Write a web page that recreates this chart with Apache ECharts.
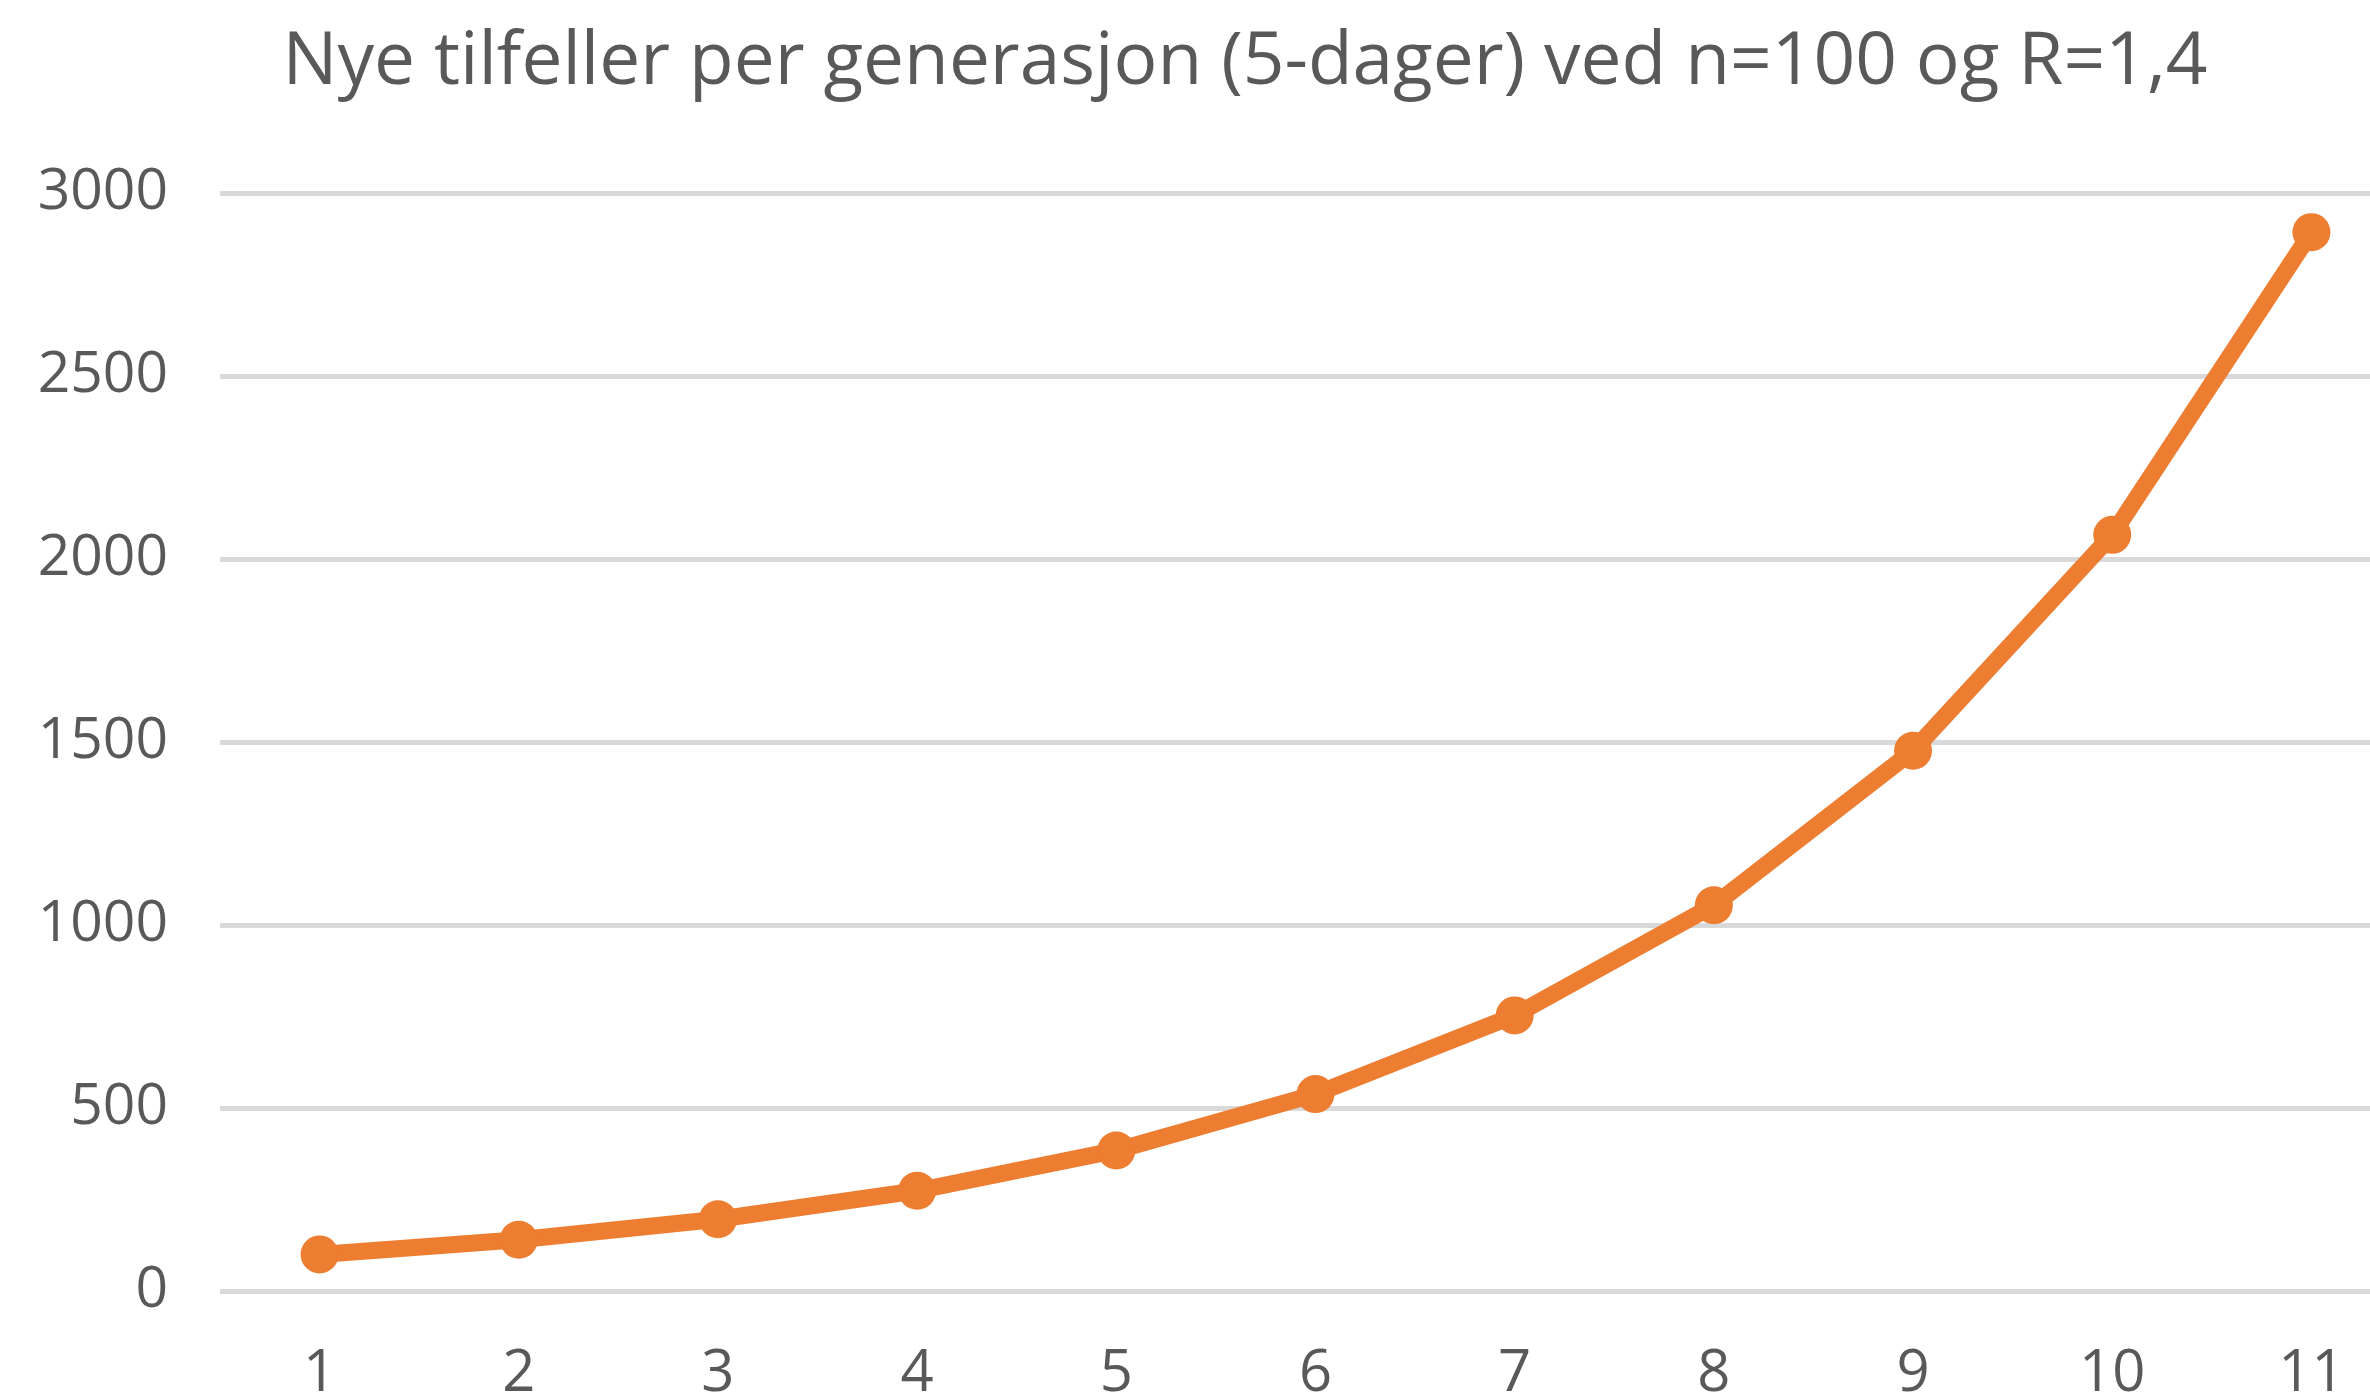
<!DOCTYPE html>
<html>
<head>
<meta charset="utf-8">
<script src="https://cdn.jsdelivr.net/npm/echarts@6/dist/echarts.min.js"></script>
<style>
  html, body { margin: 0; padding: 0; background: #fff; }
  #main { width: 2370px; height: 1395px; }
</style>
</head>
<body>
<div id="main"></div>
<script>
// generasjoner og nye tilfeller (lest av bildet)
var generasjoner = ['1', '2', '3', '4', '5', '6', '7', '8', '9', '10', '11'];
var tilfeller = [100, 140, 196, 274, 384, 538, 753, 1054, 1476, 2066, 2893];
var tittel = 'Nye tilfeller per generasjon (5-dager) ved n=100 og R=1,4';

var font = '"Open Sans", sans-serif';
var tekstFarge = '#595959';

var myChart = echarts.init(document.getElementById('main'));

var option = {
  backgroundColor: '#ffffff',
  animation: false,
  title: {
    text: tittel,
    left: 1240,
    textAlign: 'center',
    top: 22,
    textStyle: {
      fontFamily: font,
      fontSize: 73,
      fontWeight: 'normal',
      color: tekstFarge
    }
  },
  grid: {
    left: 220,
    top: 193,
    width: 2191,
    bottom: 104,
    outerBoundsMode: 'none'
  },
  xAxis: {
    type: 'category',
    data: generasjoner,
    boundaryGap: true,
    axisLine: { show: false },
    axisTick: { show: false },
    axisLabel: {
      margin: 54,
      fontFamily: font,
      fontSize: 58,
      color: tekstFarge
    }
  },
  yAxis: {
    type: 'value',
    min: 0,
    max: 3000,
    interval: 500,
    axisLine: { show: false },
    axisTick: { show: false },
    axisLabel: {
      margin: 52,
      fontFamily: font,
      fontSize: 57,
      color: tekstFarge,
      formatter: function (v) { return String(v); }
    },
    splitLine: {
      lineStyle: { color: '#d9d9d9', width: 5 }
    }
  },
  series: [{
    type: 'line',
    data: tilfeller,
    symbol: 'circle',
    symbolSize: 38,
    lineStyle: { color: '#ed7d31', width: 17 },
    itemStyle: { color: '#ed7d31' }
  }]
};

myChart.setOption(option);
</script>
</body>
</html>
